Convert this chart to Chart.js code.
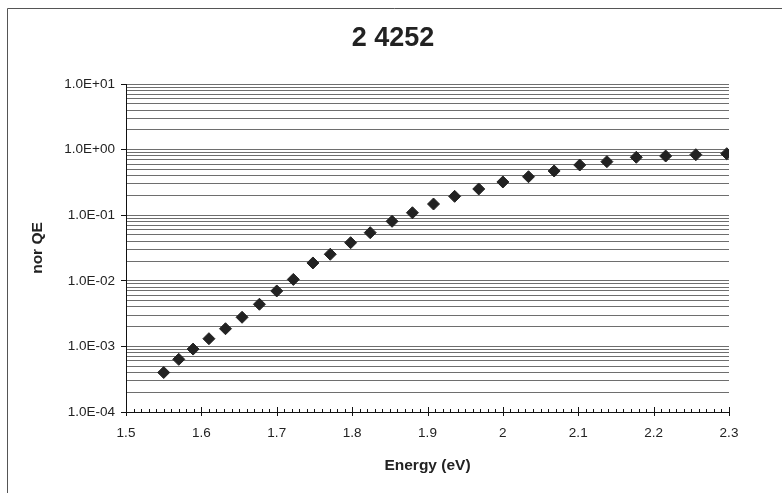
<!DOCTYPE html>
<html>
<head>
<meta charset="utf-8">
<title>2 4252</title>
<script src="https://cdn.jsdelivr.net/npm/chart.js@4"></script>
<style>
    html, body { margin: 0; padding: 0; background: #ffffff; }
    #wrap { width: 782px; height: 493px; position: relative; }
</style>
</head>
<body>
<div id="wrap">
    <canvas id="qeChart" width="782" height="493"></canvas>
</div>
<script>
// Chart data
const chartTitle = '2 4252';
const energy = [1.550, 1.570, 1.589, 1.610, 1.632, 1.654, 1.677, 1.700, 1.722, 1.748,
                1.771, 1.798, 1.824, 1.853, 1.880, 1.908, 1.936, 1.968, 2.000, 2.034,
                2.068, 2.102, 2.138, 2.177, 2.216, 2.256, 2.297];
const norQE = [4.0e-4, 6.35e-4, 9.1e-4, 1.31e-3, 1.86e-3, 2.78e-3, 4.39e-3, 7.0e-3, 1.05e-2, 1.87e-2,
               2.54e-2, 3.81e-2, 5.41e-2, 8.07e-2, 0.109, 0.148, 0.194, 0.251, 0.321, 0.386,
               0.472, 0.582, 0.655, 0.764, 0.798, 0.836, 0.866];

// Axis ticks
const xTickValues = [1.5, 1.6, 1.7, 1.8, 1.9, 2.0, 2.1, 2.2, 2.3];
const xTickLabels = ['1.5', '1.6', '1.7', '1.8', '1.9', '2', '2.1', '2.2', '2.3'];
const yDecades = [-4, -3, -2, -1, 0, 1];
const yTickLabels = ['1.0E-04', '1.0E-03', '1.0E-02', '1.0E-01', '1.0E+00', '1.0E+01'];

const FONT = "'Liberation Sans', Arial, sans-serif";

/**
 * Is this value a whole power of ten
 * @param {number} value
 * @returns {boolean}
 */
function isDecade(value) {
    const l = Math.log10(value);
    return Math.abs(l - Math.round(l)) < 1e-9;
}

/**
 * Build log ticks: every decade plus 2..9 inside it
 */
function buildLogTicks() {
    const ticks = [];
    yDecades.forEach((e, i) => {
        ticks.push({ value: Math.pow(10, e) });
        if (i < yDecades.length - 1) {
            for (let m = 2; m <= 9; m++) {
                ticks.push({ value: m * Math.pow(10, e) });
            }
        }
    });
    return ticks;
}

// Outer frame of the chart sheet and the title, centred on the sheet
const framePlugin = {
    id: 'frame',
    beforeDraw(chart) {
        const ctx = chart.ctx;
        ctx.save();
        ctx.strokeStyle = '#555';
        ctx.lineWidth = 1;
        ctx.beginPath();
        ctx.moveTo(7.5, chart.height);
        ctx.lineTo(7.5, 8.5);
        ctx.lineTo(chart.width, 8.5);
        ctx.stroke();

        ctx.fillStyle = '#222';
        ctx.font = "bold 27px " + FONT;
        ctx.textAlign = 'center';
        ctx.textBaseline = 'middle';
        ctx.fillText(chartTitle, 393, 39);
        ctx.restore();
    }
};

// Major and minor tick marks on the energy axis
const xTickPlugin = {
    id: 'xTicks',
    afterDraw(chart) {
        const ctx = chart.ctx;
        const x = chart.scales.x;
        const bottom = chart.chartArea.bottom;
        ctx.save();
        ctx.strokeStyle = '#111';
        ctx.lineWidth = 1;
        ctx.beginPath();
        xTickValues.forEach(v => {
            const px = Math.round(x.getPixelForValue(v)) + 0.5;
            ctx.moveTo(px, bottom - 5);
            ctx.lineTo(px, bottom + 4);
        });
        for (let i = 0; i < xTickValues.length - 1; i++) {
            const step = (xTickValues[i + 1] - xTickValues[i]) / 10;
            for (let k = 1; k < 10; k++) {
                const px = Math.round(x.getPixelForValue(xTickValues[i] + k * step)) + 0.5;
                ctx.moveTo(px, bottom - 3);
                ctx.lineTo(px, bottom);
            }
        }
        ctx.stroke();
        ctx.restore();
    }
};

const ctx = document.getElementById('qeChart').getContext('2d');

const qeChart = new Chart(ctx, {
    type: 'scatter',
    data: {
        datasets: [{
            label: 'nor QE',
            data: energy.map((e, i) => ({ x: e, y: norQE[i] })),
            pointStyle: 'rectRot',
            pointRadius: 6,
            pointHoverRadius: 6,
            backgroundColor: '#222',
            borderColor: '#222',
            borderWidth: 1,
            showLine: false
        }]
    },
    plugins: [framePlugin, xTickPlugin],
    options: {
        responsive: false,
        animation: false,
        devicePixelRatio: 1,
        layout: {
            padding: { left: 0, right: 53, top: 84, bottom: 0 }
        },
        plugins: {
            legend: { display: false },
            tooltip: { enabled: false },
            title: { display: false }
        },
        scales: {
            x: {
                type: 'linear',
                min: 1.5,
                max: 2.3,
                afterBuildTicks: scale => {
                    scale.ticks = xTickValues.map(v => ({ value: v }));
                },
                afterFit: scale => { scale.height = 81; },
                grid: { display: false },
                border: { display: true, color: '#111', width: 1 },
                ticks: {
                    autoSkip: false,
                    maxRotation: 0,
                    padding: 5,
                    color: '#222',
                    font: { family: FONT, size: 13.5 },
                    callback: (value, index) => xTickLabels[index]
                },
                title: {
                    display: true,
                    text: 'Energy (eV)',
                    color: '#222',
                    font: { family: FONT, size: 15.5, weight: 'bold' },
                    padding: { top: 0, bottom: 17.5 }
                }
            },
            y: {
                type: 'logarithmic',
                min: 1e-4,
                max: 10,
                afterBuildTicks: scale => {
                    scale.ticks = buildLogTicks();
                },
                afterFit: scale => { scale.width = 126; },
                grid: {
                    color: '#6e6e6e',
                    lineWidth: 1,
                    tickLength: 5,
                    tickColor: c => (c.tick && isDecade(c.tick.value)) ? '#111' : 'rgba(0,0,0,0)'
                },
                border: { display: true, color: '#111', width: 1 },
                ticks: {
                    autoSkip: false,
                    padding: 6,
                    color: '#222',
                    font: { family: FONT, size: 13.5 },
                    callback: value => isDecade(value)
                        ? yTickLabels[yDecades.indexOf(Math.round(Math.log10(value)))]
                        : ''
                },
                title: {
                    display: true,
                    text: 'nor QE',
                    color: '#222',
                    font: { family: FONT, size: 15.5, weight: 'bold' },
                    padding: { top: 28, bottom: 0 }
                }
            }
        }
    }
});
</script>
</body>
</html>
